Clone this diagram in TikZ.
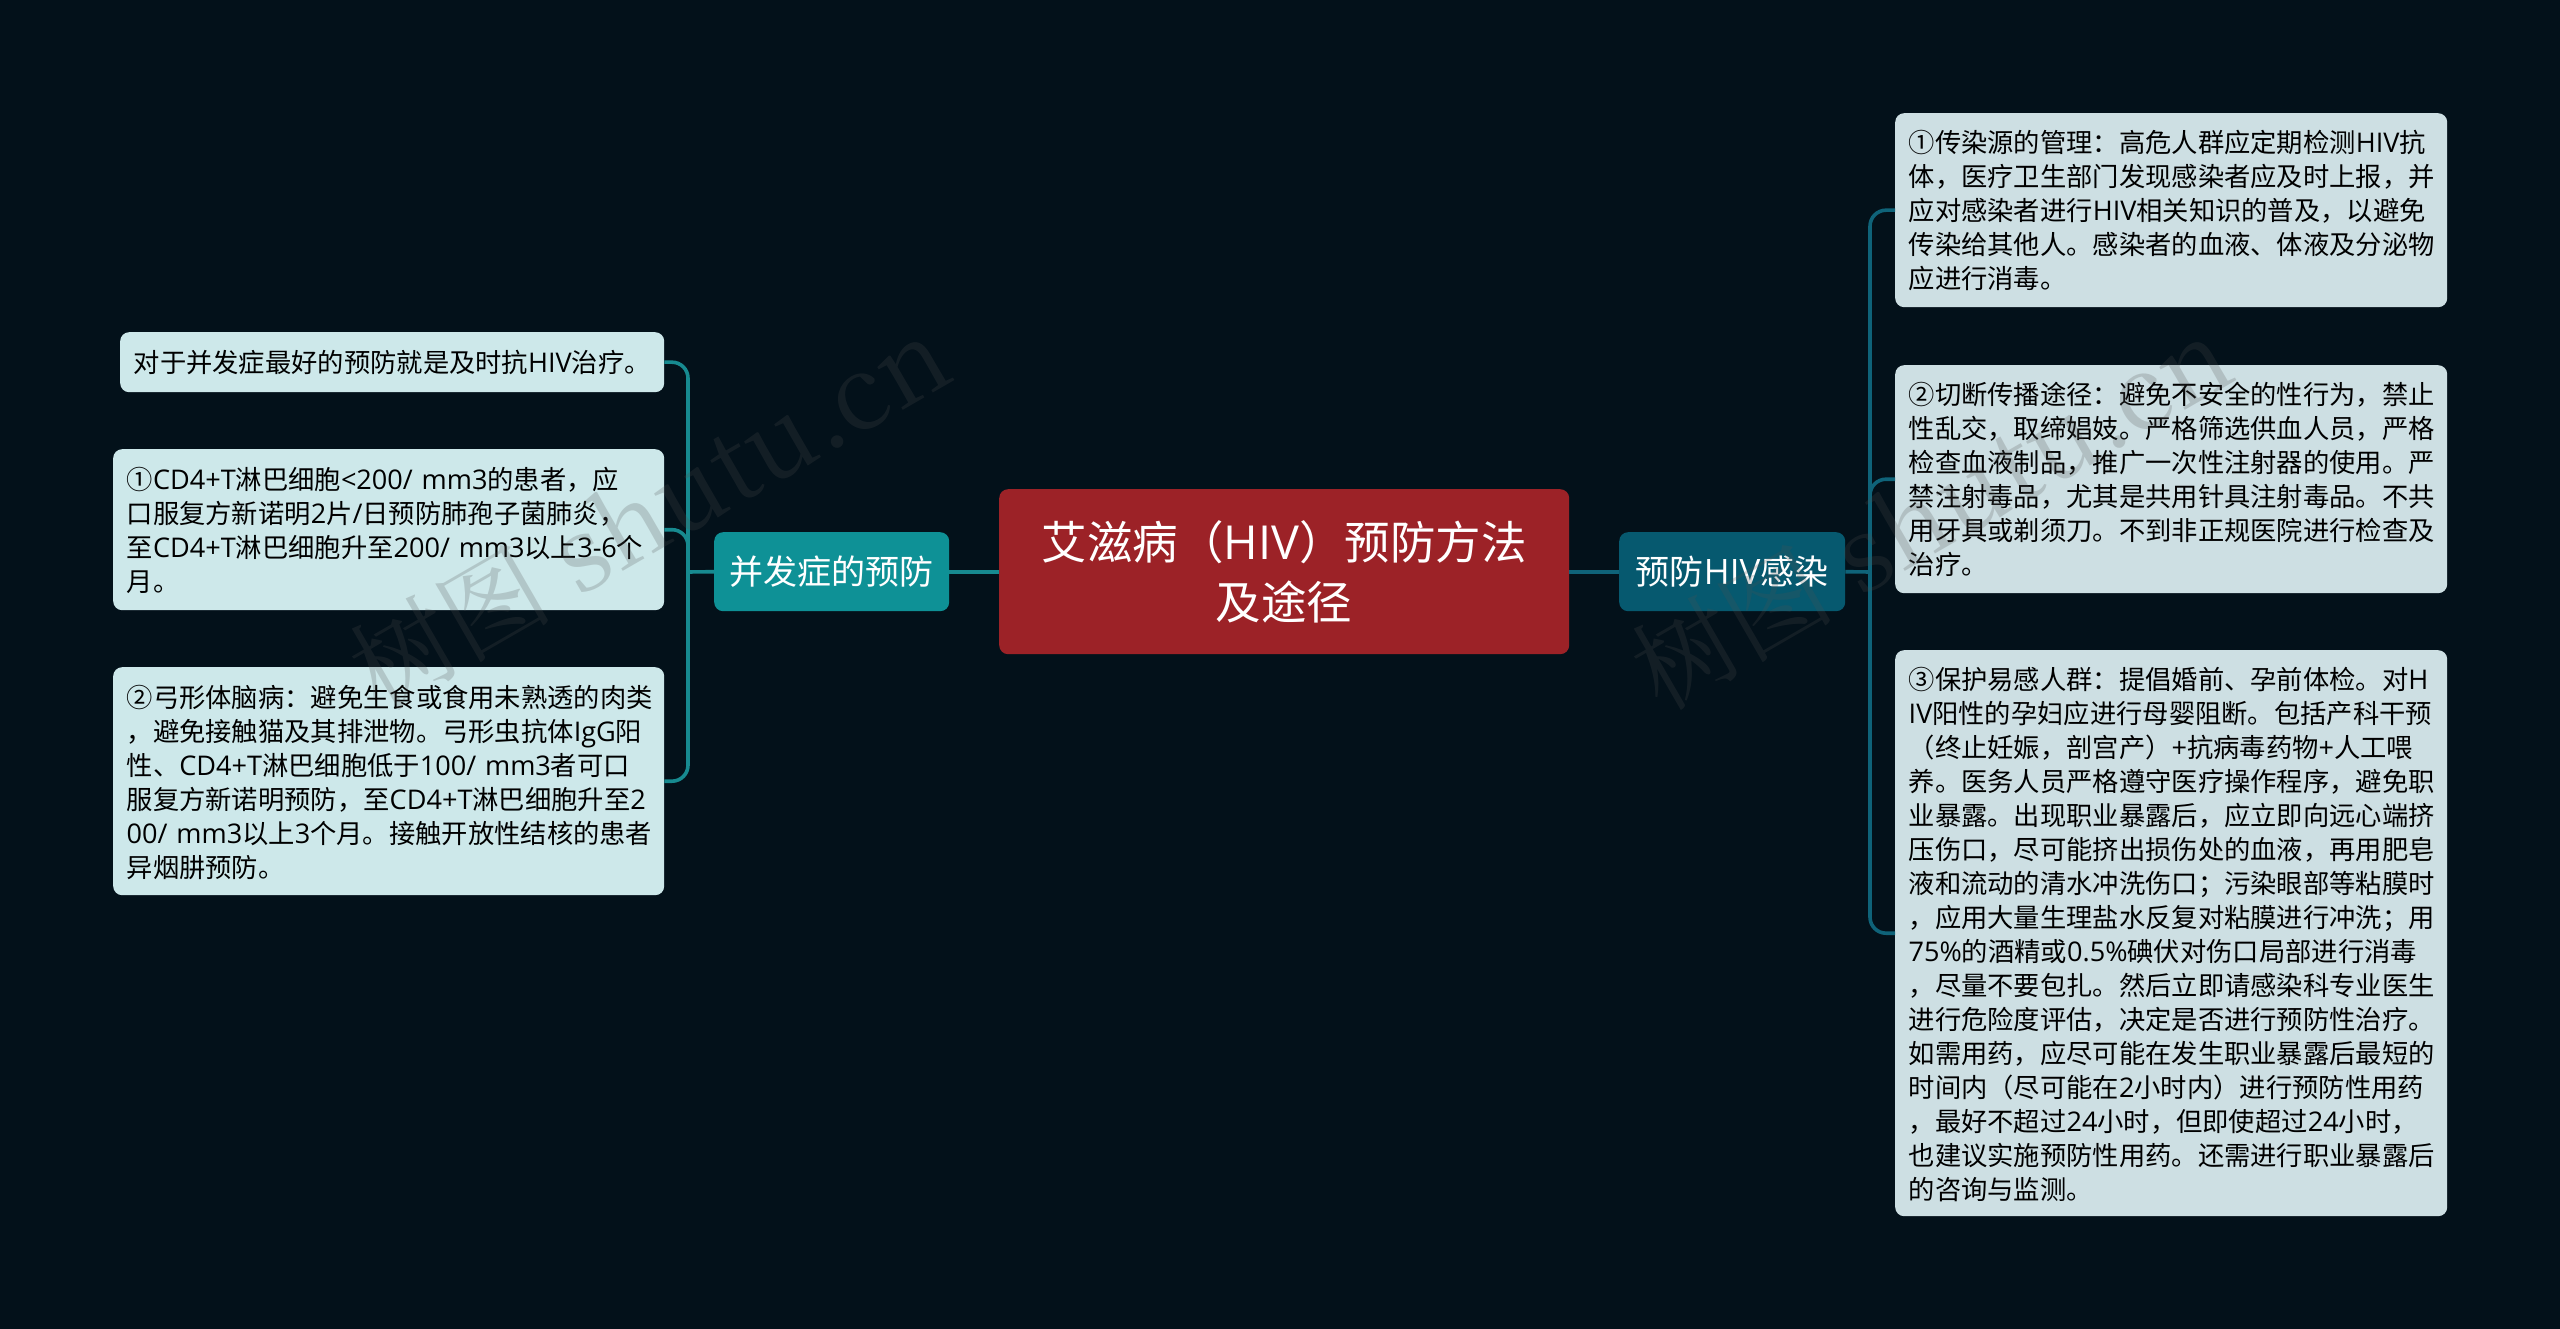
\documentclass[tikz,border=0pt]{standalone}
\usepackage{fontspec}
\setmainfont{Noto Sans CJK SC}
\newfontfamily\wmfont{Noto Serif CJK SC}
\newfontfamily\latf[Scale=1.03]{Open Sans}
\newcommand\lr[1]{{\latf #1}}
\begin{document}
\begin{tikzpicture}[x=1pt,y=-1pt,
  leafbase/.style={rectangle,rounded corners=9pt,anchor=north west,inner xsep=13.5pt,inner ysep=0pt,align=left,text=black,font=\fontsize{26.3}{34}\selectfont,execute at begin node=\rule{0pt}{29pt},execute at end node=\rule[-7.4pt]{0pt}{7.4pt}},
  lleaf/.style={leafbase,fill=lleafc},
  rleaf/.style={leafbase,fill=rleafc},
  midbox/.style={rectangle,rounded corners=9pt,anchor=north west,inner sep=0pt,align=center,text=white,minimum height=79pt,font=\fontsize{34}{40}\selectfont},
  rootbox/.style={rectangle,rounded corners=9pt,anchor=north west,inner sep=0pt,align=center,text=white,fill=rootc,minimum width=570pt,minimum height=165pt,font=\fontsize{45.5}{60}\selectfont},
  lconn/.style={draw=lconnc,line width=3.6pt,rounded corners=16pt},
  rconn/.style={draw=rconnc,line width=3.6pt,rounded corners=16pt},
  wmark/.style={rotate=30,text=wmc,opacity=.22,font=\fontsize{102}{102}\selectfont}
]
\definecolor{bgc}{HTML}{03111A}
\definecolor{rootc}{HTML}{9C2227}
\definecolor{lmidc}{HTML}{0E9196}
\definecolor{rmidc}{HTML}{06596F}
\definecolor{lleafc}{HTML}{CDE8EA}
\definecolor{rleafc}{HTML}{CDDFE3}
\definecolor{lconnc}{HTML}{178A90}
\definecolor{rconnc}{HTML}{0F6379}
\definecolor{wmc}{HTML}{505050}
\fill[bgc] (0,0) rectangle (2560,1329);
\useasboundingbox (0,0) rectangle (2560,1329);

\node[rootbox] (root) at (999,489) {艾滋病（\lr{HIV}）预防方法\\及途径};
\node[midbox,fill=lmidc,minimum width=235pt] (lmid) at (714,532) {并发症的预防};
\node[midbox,fill=rmidc,minimum width=226pt] (rmid) at (1619,532) {预防\lr{HIV}感染};

\node[lleaf,minimum width=544pt,minimum height=60pt,text width=517pt] (l1) at (120,332) {对于并发症最好的预防就是及时抗\lr{HIV}治疗。};
\node[lleaf,minimum width=551pt,minimum height=161pt,text width=524pt] (l2) at (113,449) {①\lr{CD4+T}淋巴细胞\lr{<200/ mm3}的患者，应\\口服复方新诺明\lr{2}片\lr{/}日预防肺孢子菌肺炎，\\至\lr{CD4+T}淋巴细胞升至\lr{200/ mm3}以上\lr{3-6}个\\月。};
\node[lleaf,minimum width=551pt,minimum height=228pt,text width=524pt] (l3) at (113,667) {②弓形体脑病：避免生食或食用未熟透的肉类\\，避免接触猫及其排泄物。弓形虫抗体\lr{IgG}阳\\性、\lr{CD4+T}淋巴细胞低于\lr{100/ mm3}者可口\\服复方新诺明预防，至\lr{CD4+T}淋巴细胞升至\lr{2}\\\lr{00/ mm3}以上\lr{3}个月。接触开放性结核的患者\\异烟肼预防。};

\node[rleaf,minimum width=552pt,minimum height=194pt,text width=525pt] (r1) at (1895,113) {①传染源的管理：高危人群应定期检测\lr{HIV}抗\\体，医疗卫生部门发现感染者应及时上报，并\\应对感染者进行\lr{HIV}相关知识的普及，以避免\\传染给其他人。感染者的血液、体液及分泌物\\应进行消毒。};
\node[rleaf,minimum width=552pt,minimum height=228pt,text width=525pt] (r2) at (1895,365) {②切断传播途径：避免不安全的性行为，禁止\\性乱交，取缔娼妓。严格筛选供血人员，严格\\检查血液制品，推广一次性注射器的使用。严\\禁注射毒品，尤其是共用针具注射毒品。不共\\用牙具或剃须刀。不到非正规医院进行检查及\\治疗。};
\node[rleaf,minimum width=552pt,minimum height=566pt,text width=525pt] (r3) at (1895,650) {③保护易感人群：提倡婚前、孕前体检。对\lr{H}\\\lr{IV}阳性的孕妇应进行母婴阻断。包括产科干预\\（终止妊娠，剖宫产）\lr{+}抗病毒药物\lr{+}人工喂\\养。医务人员严格遵守医疗操作程序，避免职\\业暴露。出现职业暴露后，应立即向远心端挤\\压伤口，尽可能挤出损伤处的血液，再用肥皂\\液和流动的清水冲洗伤口；污染眼部等粘膜时\\，应用大量生理盐水反复对粘膜进行冲洗；用\\\lr{75\%}的酒精或\lr{0.5\%}碘伏对伤口局部进行消毒\\，尽量不要包扎。然后立即请感染科专业医生\\进行危险度评估，决定是否进行预防性治疗。\\如需用药，应尽可能在发生职业暴露后最短的\\时间内（尽可能在\lr{2}小时内）进行预防性用药\\，最好不超过\lr{24}小时，但即使超过\lr{24}小时，\\也建议实施预防性用药。还需进行职业暴露后\\的咨询与监测。};

\coordinate (lj) at (688,572);
\coordinate (rj) at (1870,572);
\path[lconn] (root.west) -- (lmid.east);
\path[lconn] (lmid.west) -- (lj);
\path[lconn] (lj) |- (l1.east);
\path[lconn] (lj) |- (l2.east);
\path[lconn] (lj) |- (l3.east);
\path[rconn] (root.east) -- (rmid.west);
\path[rconn] (rmid.east) -- (rj);
\path[rconn] (rj) |- (r1.west);
\path[rconn] (rj) |- (r2.west);
\path[rconn] (rj) |- (r3.west);

\node[wmark] (w1) at (649,512) {\wmfont 树图 shutu.cn};
\node[wmark] (w2) at (1931,512) {\wmfont 树图 shutu.cn};
\end{tikzpicture}
\end{document}
